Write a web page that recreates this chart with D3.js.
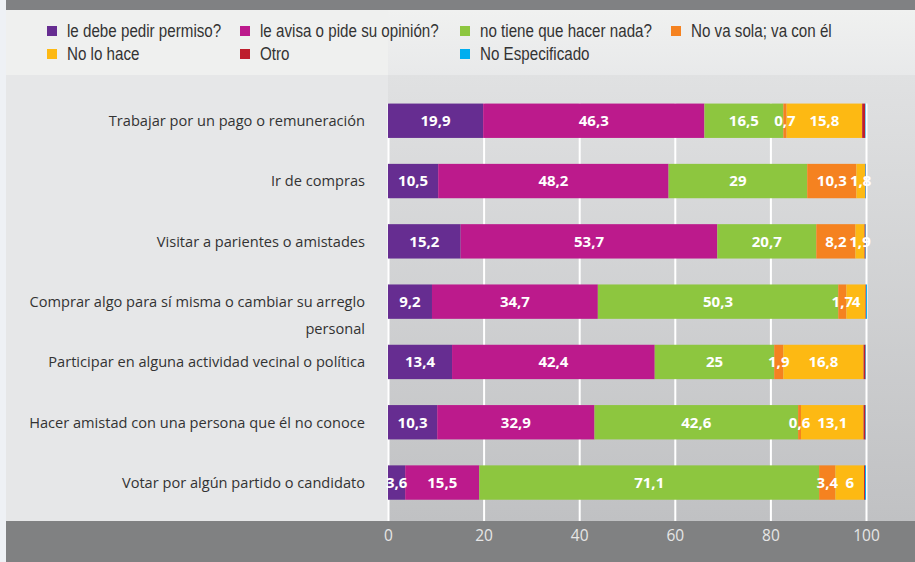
<!DOCTYPE html>
<html>
<head>
<meta charset="utf-8">
<script src="https://cdn.jsdelivr.net/npm/d3@7"></script>
<style>
  html, body { margin: 0; padding: 0; background: #eef1f5; }
  svg { display: block; }
</style>
</head>
<body>
<div id="chart"></div>
<script>
const categories = [
  'Trabajar por un pago o remuneración',
  'Ir de compras',
  'Visitar a parientes o amistades',
  'Comprar algo para sí misma o cambiar su arreglo personal',
  'Participar en alguna actividad vecinal o política',
  'Hacer amistad con una persona que él no conoce',
  'Votar por algún partido o candidato'
];

const seriesNames = [
  'le debe pedir permiso?',
  'le avisa o pide su opinión?',
  'no tiene que hacer nada?',
  'No va sola; va con él',
  'No lo hace',
  'Otro',
  'No Especificado'
];

const permiso = [19.9, 10.5, 15.2, 9.2, 13.4, 10.3, 3.6];
const avisa = [46.3, 48.2, 53.7, 34.7, 42.4, 32.9, 15.5];
const nada = [16.5, 29, 20.7, 50.3, 25, 42.6, 71.1];
const noVaSola = [0.7, 10.3, 8.2, 1.7, 1.9, 0.6, 3.4];
const noLoHace = [15.8, 1.8, 1.9, 4, 16.8, 13.1, 6];
const otro = [0.6, 0.1, 0.2, 0.1, 0.4, 0.4, 0.2];
const noEspecificado = [0.1, 0.1, 0.1, 0.2, 0.1, 0.1, 0.2];

const xTicks = [0, 20, 40, 60, 80, 100];

const colors = ['#662d91', '#bc1a8c', '#8dc63f', '#f58220', '#fdb913', '#be1e2d', '#00aeef'];
// only the first five series carry value labels in the original
const labelledSeries = seriesNames.slice(0, 5);

const allValues = [permiso, avisa, nada, noVaSola, noLoHace, otro, noEspecificado];

const rows = categories.map((cat, i) => {
  const row = { category: cat };
  seriesNames.forEach((name, s) => { row[name] = allValues[s][i]; });
  return row;
});

const W = 915, H = 562;
const plotLeft = 388, plotRight = 866;
const chartTop = 75, chartBottom = 521;

const svg = d3.select('#chart').append('svg')
  .attr('width', W)
  .attr('height', H);

const defs = svg.append('defs');
const g1 = defs.append('linearGradient').attr('id', 'plotBg')
  .attr('x1', 0).attr('y1', 0).attr('x2', 0).attr('y2', 1);
g1.append('stop').attr('offset', '0%').attr('stop-color', '#e0e1e2');
g1.append('stop').attr('offset', '100%').attr('stop-color', '#c0c1c3');

const g2 = defs.append('linearGradient').attr('id', 'legendBg')
  .attr('x1', 0).attr('y1', 0).attr('x2', 0).attr('y2', 1);
g2.append('stop').attr('offset', '0%').attr('stop-color', '#f0f1f0');
g2.append('stop').attr('offset', '100%').attr('stop-color', '#e8e9ea');

// backgrounds
svg.append('rect').attr('x', 0).attr('y', 0).attr('width', W).attr('height', H).attr('fill', '#eef1f5');
svg.append('rect').attr('x', 6).attr('y', 0).attr('width', W - 6).attr('height', 10).attr('fill', '#808183');
svg.append('rect').attr('x', 6).attr('y', 10).attr('width', W - 6).attr('height', chartTop - 10).attr('fill', '#eff0ef');
svg.append('rect').attr('x', plotLeft).attr('y', 10).attr('width', W - plotLeft).attr('height', chartTop - 10).attr('fill', 'url(#legendBg)');
svg.append('rect').attr('x', 6).attr('y', chartTop).attr('width', plotLeft - 6).attr('height', chartBottom - chartTop).attr('fill', '#e6e7e8');
svg.append('rect').attr('x', plotLeft).attr('y', chartTop).attr('width', W - plotLeft).attr('height', chartBottom - chartTop).attr('fill', 'url(#plotBg)');
svg.append('rect').attr('x', 6).attr('y', chartBottom).attr('width', W - 6).attr('height', H - chartBottom).attr('fill', '#808182');

const x = d3.scaleLinear()
  .domain([0, 100])
  .range([plotLeft, plotRight]);

const y = d3.scaleBand()
  .domain(categories)
  .range([90.6, 512.7])
  .paddingInner(0.43)
  .paddingOuter(0.215);

// grid lines
const gridTop = y(categories[0]);
svg.append('g')
  .attr('transform', `translate(0,${chartBottom})`)
  .call(d3.axisBottom(x).tickValues(xTicks).tickSize(-(chartBottom - gridTop)).tickFormat(''))
  .call(g => g.select('.domain').remove())
  .selectAll('line')
  .attr('stroke', '#ffffff')
  .attr('stroke-width', 2);

// stacked bars
const stack = d3.stack().keys(seriesNames);
const stacked = stack(rows);

const layers = svg.append('g').selectAll('g')
  .data(stacked)
  .enter()
  .append('g')
  .attr('fill', (d, i) => colors[i]);

layers.selectAll('rect')
  .data(d => d)
  .enter()
  .append('rect')
  .attr('x', d => x(d[0]))
  .attr('y', d => y(d.data.category))
  .attr('width', d => x(d[1]) - x(d[0]))
  .attr('height', y.bandwidth());

// value labels
const fmt = v => String(v).replace('.', ',');
const labels = svg.append('g')
  .attr('font-family', '"Open Sans", sans-serif')
  .attr('font-weight', 'bold')
  .attr('font-size', '15px')
  .attr('fill', '#ffffff')
  .attr('text-anchor', 'middle');

stacked.forEach(layer => {
  if (!labelledSeries.includes(layer.key)) return;
  layer.forEach(d => {
    const v = d.data[layer.key];
    labels.append('text')
      .attr('x', (x(d[0]) + x(d[1])) / 2)
      .attr('y', y(d.data.category) + y.bandwidth() / 2)
      .attr('dy', '0.36em')
      .text(fmt(v));
  });
});

// category labels, wrapped when too long
const catLabels = svg.append('g')
  .attr('font-family', '"Open Sans", sans-serif')
  .attr('font-size', '14.6px')
  .attr('fill', '#333333')
  .attr('text-anchor', 'end');

categories.forEach(cat => {
  const t = catLabels.append('text')
    .attr('x', plotLeft - 23)
    .attr('y', y(cat) + y.bandwidth() / 2)
    .attr('dy', '0.36em');
  const words = cat.split(' ');
  let line = [];
  let tspan = t.append('tspan').attr('x', plotLeft - 23);
  words.forEach(w => {
    line.push(w);
    tspan.text(line.join(' '));
    if (tspan.node().getComputedTextLength() > 360 && line.length > 1) {
      line.pop();
      tspan.text(line.join(' '));
      line = [w];
      tspan = t.append('tspan').attr('x', plotLeft - 23).attr('dy', 27).text(w);
    }
  });
});

// x axis tick labels
svg.append('g')
  .attr('transform', `translate(0,${chartBottom})`)
  .call(d3.axisBottom(x).tickValues(xTicks).tickSize(0).tickPadding(9))
  .call(g => g.select('.domain').remove())
  .selectAll('text')
  .attr('font-family', '"Open Sans", sans-serif')
  .attr('font-size', '15.5px')
  .attr('fill', '#e6e6e6');

// legend (condensed face in the original, so squeeze horizontally)
const legendCols = [47, 240, 460, 671];
const legendRows = [31, 54];
const legend = svg.append('g')
  .attr('font-family', '"Liberation Sans", Arial, sans-serif')
  .attr('font-size', '18.5px')
  .attr('fill', '#333333');

seriesNames.forEach((name, i) => {
  const item = legend.append('g')
    .attr('transform', `translate(${legendCols[i % 4]},${legendRows[Math.floor(i / 4)]})`);
  item.append('rect')
    .attr('x', 0)
    .attr('y', -5)
    .attr('width', 10)
    .attr('height', 10)
    .attr('fill', colors[i]);
  item.append('text')
    .attr('transform', 'translate(20,0) scale(0.82,1)')
    .attr('dy', '0.35em')
    .text(name);
});
</script>
</body>
</html>
